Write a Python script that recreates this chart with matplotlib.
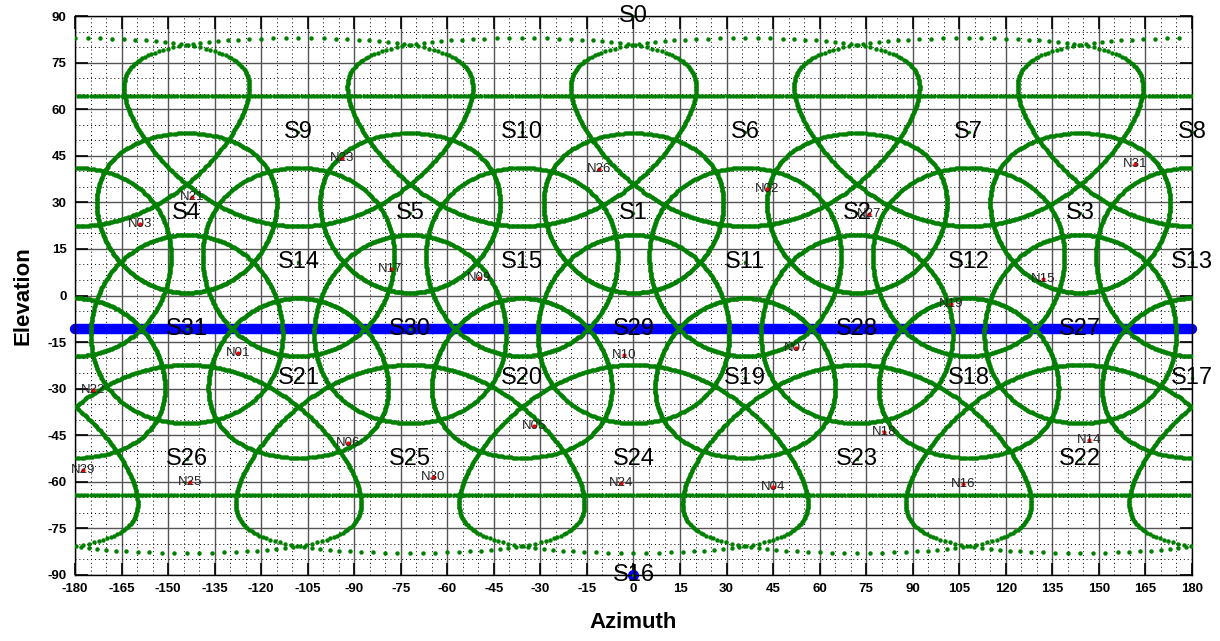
"""Beam footprints (S) and node positions (N) on an azimuth / elevation grid."""

import matplotlib.pyplot as plt
import numpy as np

plt.rcParams["font.family"] = ["Liberation Sans", "DejaVu Sans"]
plt.rcParams["axes.unicode_minus"] = False

# beam centres (deg) and footprint radius (deg, angular radius on the sphere)
BEAM_NAMES = [f"S{i}" for i in range(32)]
BEAM_AZ = [0, 0, 72, 144, -144, -72, 36, 108, 180, -108,
           -36, 36, 108, 180, -108, -36, 0, 180, 108, 36,
           -36, -108, 144, 72, 0, -72, -144, 144, 72, 0,
           -72, -144]
BEAM_EL = [90, 26.57, 26.57, 26.57, 26.57, 26.57, 52.62, 52.62, 52.62, 52.62,
           52.62, 10.81, 10.81, 10.81, 10.81, 10.81, -90, -26.57, -26.57, -26.57,
           -26.57, -26.57, -52.62, -52.62, -52.62, -52.62, -52.62, -10.81, -10.81, -10.81,
           -10.81, -10.81]
BEAM_RADIUS = [25.6, 25.7, 25.7, 25.7, 25.7, 25.7, 30.3, 30.3, 30.3, 30.3,
               30.3, 30.3, 30.3, 30.3, 30.3, 30.3, 25.6, 25.7, 25.7, 25.7,
               25.7, 25.7, 30.3, 30.3, 30.3, 30.3, 30.3, 30.3, 30.3, 30.3,
               30.3, 30.3]

# nodes
NODE_NAMES = ["N01", "N02", "N03", "N04", "N05", "N06", "N07", "N09", "N10", "N14",
              "N15", "N16", "N17", "N18", "N19", "N21", "N22", "N23", "N24", "N25",
              "N26", "N27", "N29", "N30", "N31"]
NODE_AZ = [-127.4, 43.1, -159.0, 45.1, -32.0, -91.9, 52.3, -49.7, -2.9, 146.8,
           132.1, 106.2, -78.3, 80.7, 102.5, -142.3, -174.3, -94.0, -4.1, -142.9,
           -11.1, 76.0, -177.5, -64.5, 161.7]
NODE_EL = [-18.6, 34.2, 22.9, -61.8, -41.9, -47.6, -17.0, 5.7, -19.2, -46.5,
           5.2, -60.7, 8.4, -44.0, -2.8, 31.6, -30.4, 44.2, -60.3, -60.2,
           40.7, 26.1, -56.2, -58.3, 42.2]

# horizontal track
TRACK_EL = -10.81
TRACK_AZ = [-180, 180]
MARK_AZ, MARK_EL = 0, -90

GREEN = "#008000"


def footprint(az0, el0, radius, n=360):
    """Points of a small circle on the sphere, returned as (az, el) in degrees."""
    a, p, r = np.radians(az0), np.radians(el0), np.radians(radius)
    c = np.array([np.cos(p) * np.cos(a), np.cos(p) * np.sin(a), np.sin(p)])
    # east / north unit vectors at the centre (well defined at the poles too)
    u = np.array([-np.sin(a), np.cos(a), 0.0])
    v = np.cross(c, u)
    t = np.radians(np.arange(n) * 360.0 / n)
    pts = (np.outer(np.cos(r) * np.ones(n), c)
           + np.sin(r) * (np.outer(np.cos(t), u) + np.outer(np.sin(t), v)))
    az = np.degrees(np.arctan2(pts[:, 1], pts[:, 0]))
    el = np.degrees(np.arcsin(np.clip(pts[:, 2], -1, 1)))
    return az, el


fig = plt.figure(figsize=(12.2, 6.41), dpi=100)
ax = fig.add_axes([0.0615, 0.103, 0.9155, 0.872])

ax.set_xlim(-180, 180)
ax.set_ylim(-90, 90)
ax.set_xticks(np.arange(-180, 181, 15))
ax.set_yticks(np.arange(-90, 91, 15))
ax.set_xticks(np.arange(-180, 181, 5), minor=True)
ax.set_yticks(np.arange(-90, 91, 5), minor=True)
ax.grid(True, which="minor", color="black", linestyle=(0, (1, 3)), linewidth=0.7)
ax.grid(True, which="major", color="#555555", linestyle="-", linewidth=1.0)
ax.set_axisbelow(True)
ax.tick_params(which="major", direction="in", length=9, width=1.2,
               top=True, right=True, labelsize=9.5, pad=6)
ax.tick_params(which="minor", length=0)
for lab in ax.get_xticklabels() + ax.get_yticklabels():
    lab.set_fontweight("bold")
for sp in ax.spines.values():
    sp.set_linewidth(1.0)

ax.plot(TRACK_AZ, [TRACK_EL, TRACK_EL], color="blue", linewidth=7.5,
        solid_capstyle="round", clip_on=False, zorder=2)
ax.plot(MARK_AZ, MARK_EL, "o", color="blue", markersize=7, clip_on=False, zorder=2)

for az0, el0, rad in zip(BEAM_AZ, BEAM_EL, BEAM_RADIUS):
    az, el = footprint(az0, el0, rad)
    ax.plot(az, el, "o", color=GREEN, markersize=3.2, markeredgewidth=0, zorder=3)

ax.plot(BEAM_AZ, BEAM_EL, "o", color=GREEN, markersize=2.5, markeredgewidth=0,
        clip_on=False, zorder=4)
for name, az0, el0 in zip(BEAM_NAMES, BEAM_AZ, BEAM_EL):
    ax.text(az0, el0, name, fontsize=17, ha="center", va="center",
            color="black", clip_on=False, zorder=5)

ax.plot(NODE_AZ, NODE_EL, "o", color="red", markersize=3, markeredgewidth=0, zorder=4)
for name, az0, el0 in zip(NODE_NAMES, NODE_AZ, NODE_EL):
    ax.text(az0, el0, name, fontsize=9.5, ha="center", va="center",
            color="#222222", zorder=5)

ax.set_xlabel("Azimuth", fontsize=16, fontweight="bold", labelpad=12)
ax.set_ylabel("Elevation", fontsize=16, fontweight="bold", labelpad=10)

fig.savefig("out.png", dpi=100)
